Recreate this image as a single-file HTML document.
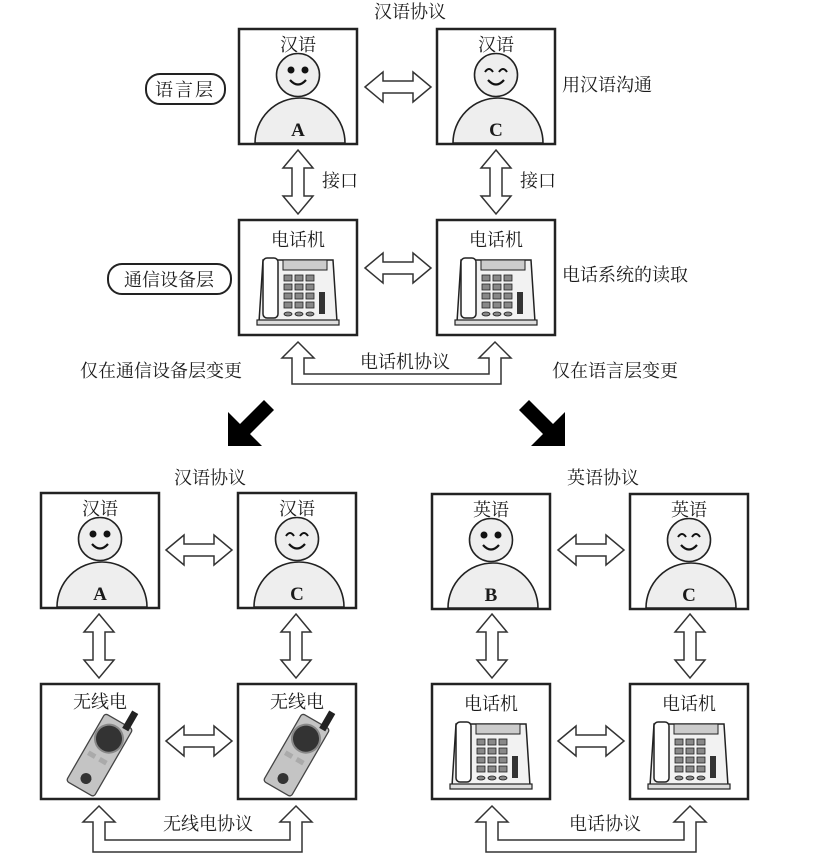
<!DOCTYPE html>
<html><head><meta charset="utf-8"><style>
html,body{margin:0;padding:0;background:#fff;}
svg{display:block;}
text{font-family:"Liberation Serif","Noto Serif CJK SC","Noto Sans CJK SC",serif;fill:#1a1a1a;}
</style></head><body>
<svg width="815" height="863" viewBox="0 0 815 863" xmlns="http://www.w3.org/2000/svg">
<defs>
<g id="box"><rect x="0" y="0" width="118" height="115" fill="#fff" stroke="#222" stroke-width="2.5"/></g>
<g id="head">
  <path d="M16,114 A45,45 0 0 1 106,114 Z" fill="#eee" stroke="#222" stroke-width="1.6"/>
  <circle cx="59" cy="46" r="21.5" fill="#eee" stroke="#222" stroke-width="1.6"/>
  <path d="M51,51 Q59,60 67,51" fill="none" stroke="#111" stroke-width="2.2"/>
</g>
<g id="eyesDot"><circle cx="52" cy="41" r="3.5" fill="#111"/><circle cx="66" cy="41" r="3.5" fill="#111"/></g>
<g id="eyesArc"><path d="M48,43 Q52,37 56,43 M62,43 Q66,37 70,43" fill="none" stroke="#111" stroke-width="2"/></g>
<g id="phone">
  <path d="M20,102 L24,40 L94,40 L98,102 Z" fill="#f2f2f2" stroke="#222" stroke-width="1.5"/>
  <rect x="18" y="100" width="82" height="5" fill="#ddd" stroke="#222" stroke-width="1.2"/>
  <rect x="24" y="38" width="15" height="60" rx="4" fill="#fff" stroke="#222" stroke-width="1.5"/>
  <rect x="44" y="40" width="44" height="10" fill="#ccc" stroke="#222" stroke-width="1"/>
  <g fill="#888" stroke="#222" stroke-width="0.8">
    <rect x="45" y="55" width="8" height="6"/><rect x="56" y="55" width="8" height="6"/><rect x="67" y="55" width="8" height="6"/>
    <rect x="45" y="64" width="8" height="6"/><rect x="56" y="64" width="8" height="6"/><rect x="67" y="64" width="8" height="6"/>
    <rect x="45" y="73" width="8" height="6"/><rect x="56" y="73" width="8" height="6"/><rect x="67" y="73" width="8" height="6"/>
    <rect x="45" y="82" width="8" height="6"/><rect x="56" y="82" width="8" height="6"/><rect x="67" y="82" width="8" height="6"/>
    <ellipse cx="49" cy="94" rx="4" ry="2"/><ellipse cx="60" cy="94" rx="4" ry="2"/><ellipse cx="71" cy="94" rx="4" ry="2"/>
  </g>
  <rect x="80" y="72" width="6" height="22" fill="#333"/>
</g>
<g id="radio">
  <g transform="rotate(30 58 72)">
    <rect x="42" y="32" width="32" height="78" rx="3" fill="#c4c4c4" stroke="#444" stroke-width="1.3"/>
    <rect x="64" y="16" width="7" height="20" fill="#222"/>
    <circle cx="58" cy="52" r="14" fill="#333" stroke="#888" stroke-width="2"/>
    <rect x="47" y="72" width="8" height="5" fill="#aaa"/><rect x="60" y="72" width="8" height="5" fill="#aaa"/>
    <circle cx="58" cy="98" r="5.5" fill="#333"/>
  </g>
</g>
<path id="harr" d="M0,15 L18,0 L18,9 L48,9 L48,0 L66,15 L48,30 L48,21 L18,21 L18,30 Z" fill="#fff" stroke="#333" stroke-width="1.5"/>
<path id="varr" d="M15,0 L30,18 L21,18 L21,46 L30,46 L15,64 L0,46 L9,46 L9,18 L0,18 Z" fill="#fff" stroke="#333" stroke-width="1.5"/>
</defs>

<!-- TOP -->
<text x="410" y="18" font-size="18" text-anchor="middle">汉语协议</text>
<g transform="translate(239,29)"><use href="#box"/><use href="#head"/><use href="#eyesDot"/><text x="59" y="22" font-size="18" text-anchor="middle">汉语</text><text x="59" y="107" font-size="19" font-weight="bold" text-anchor="middle">A</text></g>
<g transform="translate(437,29)"><use href="#box"/><use href="#head"/><use href="#eyesArc"/><text x="59" y="22" font-size="18" text-anchor="middle">汉语</text><text x="59" y="107" font-size="19" font-weight="bold" text-anchor="middle">C</text></g>
<g transform="translate(239,220)"><use href="#box"/><use href="#phone"/><text x="59" y="26" font-size="18" text-anchor="middle">电话机</text></g>
<g transform="translate(437,220)"><use href="#box"/><use href="#phone"/><text x="59" y="26" font-size="18" text-anchor="middle">电话机</text></g>
<use href="#harr" x="365" y="72"/>
<use href="#harr" x="365" y="253"/>
<use href="#varr" x="283" y="150"/>
<use href="#varr" x="481" y="150"/>
<text x="322" y="187" font-size="18">接口</text>
<text x="520" y="187" font-size="18">接口</text>
<rect x="146" y="74" width="79" height="30" rx="14" fill="#fff" stroke="#222" stroke-width="2"/>
<text x="185" y="96" font-size="18" text-anchor="middle" letter-spacing="2">语言层</text>
<rect x="108" y="264" width="123" height="30" rx="14" fill="#fff" stroke="#222" stroke-width="2"/>
<text x="169" y="286" font-size="18" text-anchor="middle">通信设备层</text>
<text x="562" y="91" font-size="18">用汉语沟通</text>
<text x="562" y="281" font-size="18">电话系统的读取</text>
<path d="M298,342 L314,358 L304,358 L304,374 L489,374 L489,358 L479,358 L495,342 L511,358 L501,358 L501,384 L292,384 L292,358 L282,358 Z" fill="#fff" stroke="#333" stroke-width="1.5"/>
<text x="405" y="368" font-size="18" text-anchor="middle">电话机协议</text>
<text x="80" y="377" font-size="18">仅在通信设备层变更</text>
<text x="552" y="377" font-size="18">仅在语言层变更</text>
<path d="M228,446 L228,412 L240,424 L264,400 L274,410 L250,434 L262,446 Z" fill="#000"/>
<path d="M565,446 L565,412 L553,424 L529,400 L519,410 L543,434 L531,446 Z" fill="#000"/>

<!-- BOTTOM LEFT -->
<text x="210" y="484" font-size="18" text-anchor="middle">汉语协议</text>
<g transform="translate(41,493)"><use href="#box"/><use href="#head"/><use href="#eyesDot"/><text x="59" y="22" font-size="18" text-anchor="middle">汉语</text><text x="59" y="107" font-size="19" font-weight="bold" text-anchor="middle">A</text></g>
<g transform="translate(238,493)"><use href="#box"/><use href="#head"/><use href="#eyesArc"/><text x="59" y="22" font-size="18" text-anchor="middle">汉语</text><text x="59" y="107" font-size="19" font-weight="bold" text-anchor="middle">C</text></g>
<g transform="translate(41,684)"><use href="#box"/><use href="#radio"/><text x="59" y="24" font-size="18" text-anchor="middle">无线电</text></g>
<g transform="translate(238,684)"><use href="#box"/><use href="#radio"/><text x="59" y="24" font-size="18" text-anchor="middle">无线电</text></g>
<use href="#harr" x="166" y="535"/>
<use href="#harr" x="166" y="726"/>
<use href="#varr" x="84" y="614"/>
<use href="#varr" x="281" y="614"/>
<path d="M99,806 L115,822 L105,822 L105,840 L290,840 L290,822 L280,822 L296,806 L312,822 L302,822 L302,852 L93,852 L93,822 L83,822 Z" fill="#fff" stroke="#333" stroke-width="1.5"/>
<text x="208" y="830" font-size="18" text-anchor="middle">无线电协议</text>

<!-- BOTTOM RIGHT -->
<text x="603" y="484" font-size="18" text-anchor="middle">英语协议</text>
<g transform="translate(432,494)"><use href="#box"/><use href="#head"/><use href="#eyesDot"/><text x="59" y="22" font-size="18" text-anchor="middle">英语</text><text x="59" y="107" font-size="19" font-weight="bold" text-anchor="middle">B</text></g>
<g transform="translate(630,494)"><use href="#box"/><use href="#head"/><use href="#eyesArc"/><text x="59" y="22" font-size="18" text-anchor="middle">英语</text><text x="59" y="107" font-size="19" font-weight="bold" text-anchor="middle">C</text></g>
<g transform="translate(432,684)"><use href="#box"/><use href="#phone"/><text x="59" y="26" font-size="18" text-anchor="middle">电话机</text></g>
<g transform="translate(630,684)"><use href="#box"/><use href="#phone"/><text x="59" y="26" font-size="18" text-anchor="middle">电话机</text></g>
<use href="#harr" x="558" y="535"/>
<use href="#harr" x="558" y="726"/>
<use href="#varr" x="477" y="614"/>
<use href="#varr" x="675" y="614"/>
<path d="M492,806 L508,822 L498,822 L498,840 L684,840 L684,822 L674,822 L690,806 L706,822 L696,822 L696,852 L486,852 L486,822 L476,822 Z" fill="#fff" stroke="#333" stroke-width="1.5"/>
<text x="605" y="830" font-size="18" text-anchor="middle">电话协议</text>
</svg>
</body></html>
